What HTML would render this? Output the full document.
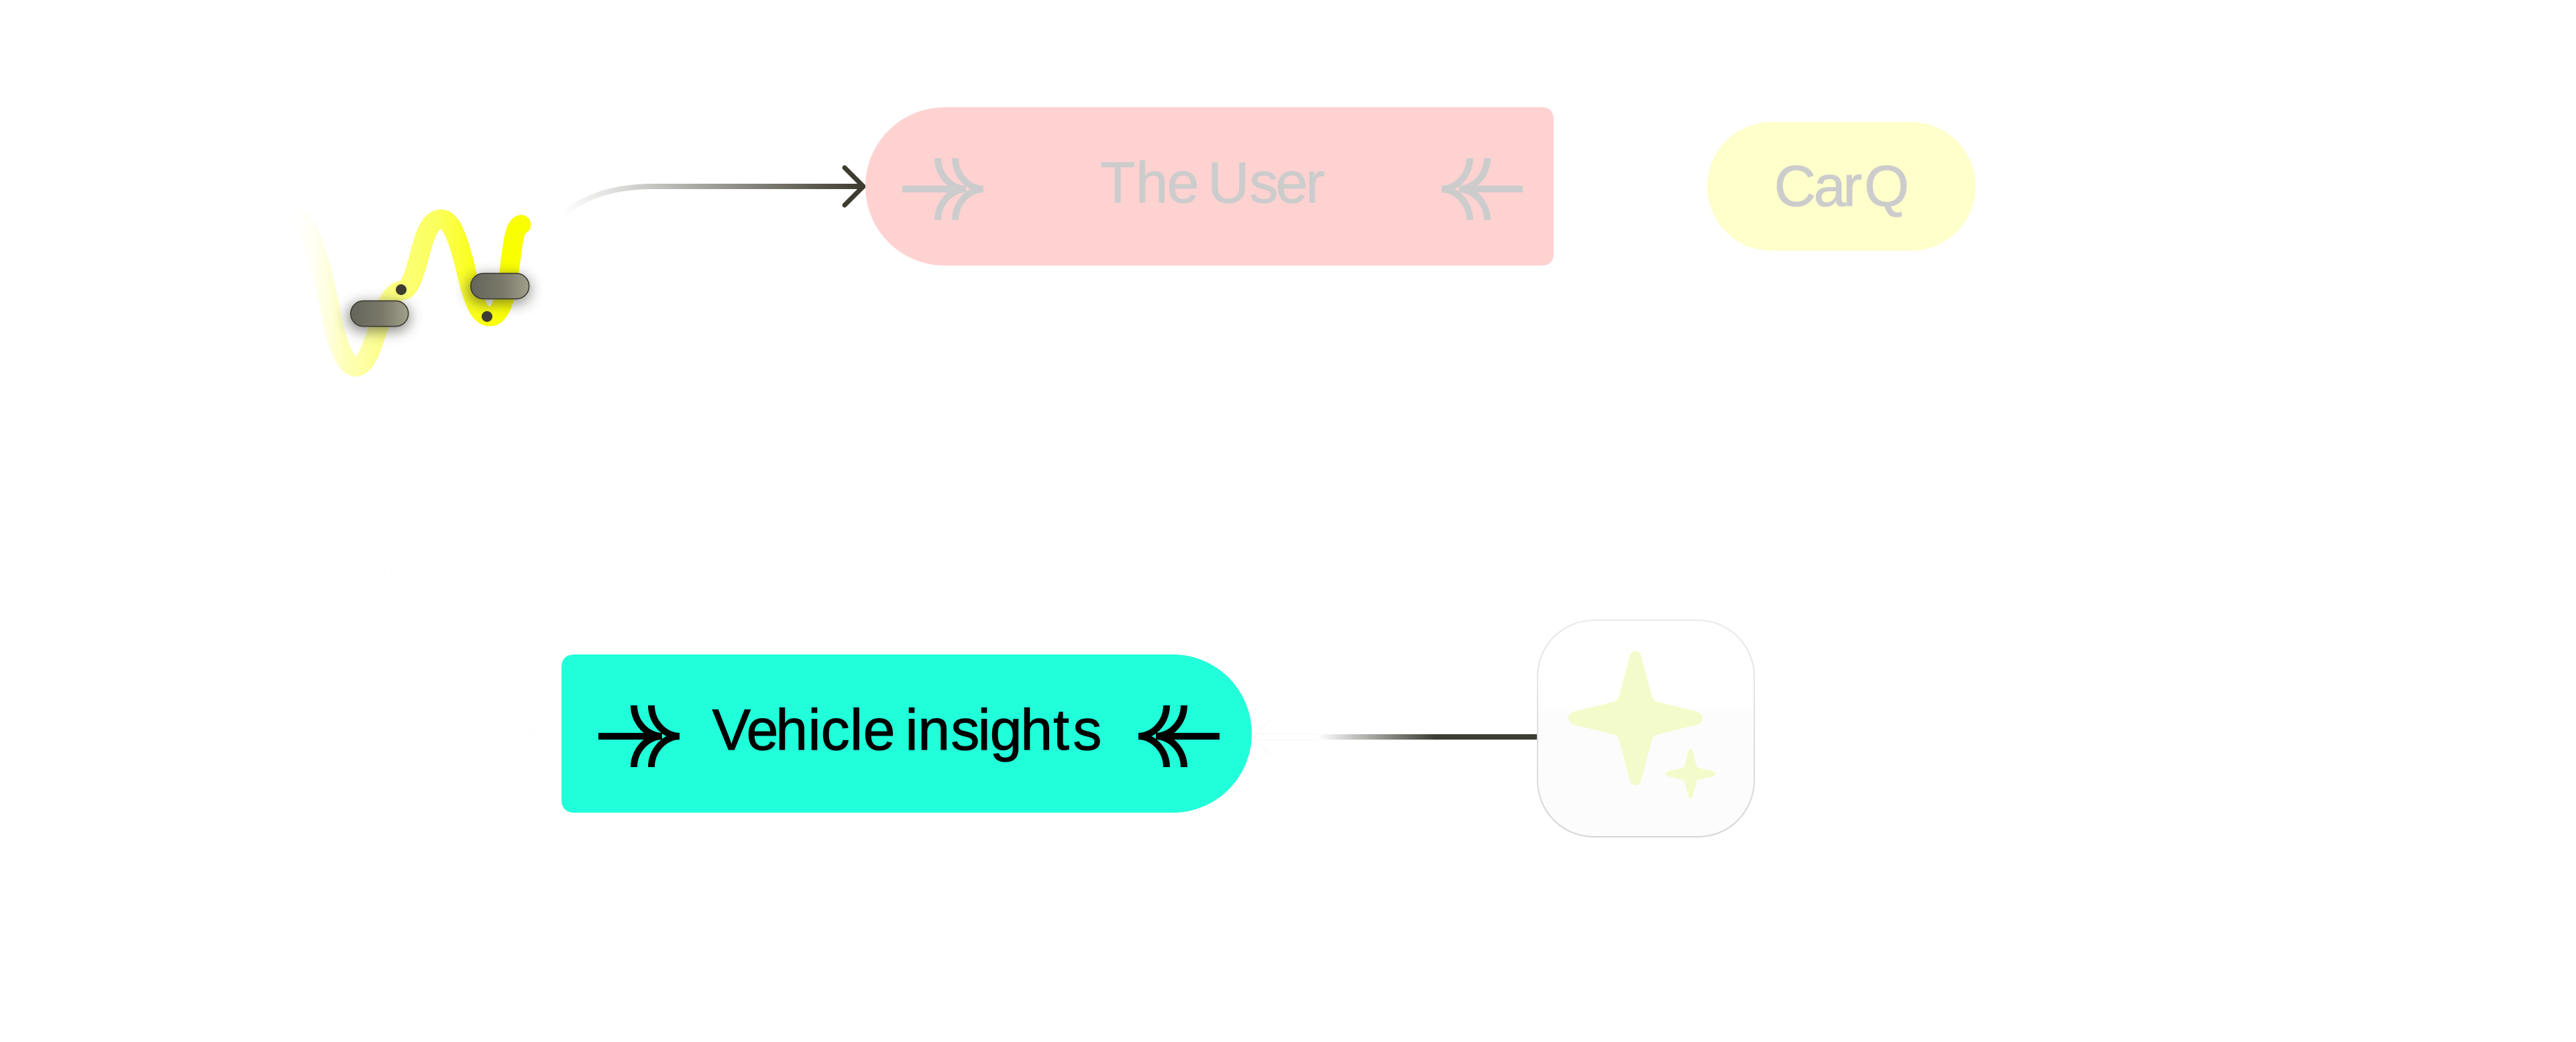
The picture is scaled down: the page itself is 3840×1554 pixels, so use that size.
<!DOCTYPE html>
<html>
<head>
<meta charset="utf-8">
<style>
html,body{margin:0;padding:0;background:#fff;}
svg{display:block;}
text{font-family:"Liberation Sans",sans-serif;font-size:86px;}
</style>
</head>
<body>
<svg xmlns="http://www.w3.org/2000/svg" width="3840" height="1554" viewBox="0 0 3840 1554">
<defs>
<linearGradient id="wave" gradientUnits="userSpaceOnUse" x1="445" y1="0" x2="790" y2="0">
<stop offset="0" stop-color="#fffff4" stop-opacity="0.15"/>
<stop offset="0.2" stop-color="#fdffb8"/>
<stop offset="0.4" stop-color="#fcff80"/>
<stop offset="0.6" stop-color="#fbff5c"/>
<stop offset="0.75" stop-color="#faff1c"/>
<stop offset="0.9" stop-color="#f9ff00"/>
<stop offset="1" stop-color="#f9ff00"/>
</linearGradient>
<linearGradient id="pill" x1="0" y1="0" x2="1" y2="0">
<stop offset="0" stop-color="#64645b"/>
<stop offset="0.55" stop-color="#7a796a"/>
<stop offset="1" stop-color="#a1a08b"/>
</linearGradient>
<linearGradient id="c1" gradientUnits="userSpaceOnUse" x1="840" y1="0" x2="1285" y2="0">
<stop offset="0" stop-color="#3e3c30" stop-opacity="0"/>
<stop offset="0.25" stop-color="#3e3c30" stop-opacity="0.25"/>
<stop offset="1" stop-color="#3e3c30"/>
</linearGradient>
<linearGradient id="c2" gradientUnits="userSpaceOnUse" x1="2140" y1="0" x2="1965" y2="0">
<stop offset="0" stop-color="#3a3d33"/>
<stop offset="1" stop-color="#3a3d33" stop-opacity="0"/>
</linearGradient>
<linearGradient id="tile" x1="0" y1="0" x2="0" y2="1">
<stop offset="0" stop-color="#ffffff"/>
<stop offset="0.38" stop-color="#ffffff"/>
<stop offset="0.44" stop-color="#fcfcfc"/>
<stop offset="1" stop-color="#fcfcfc"/>
</linearGradient>
<linearGradient id="tileb" x1="0" y1="0" x2="0" y2="1">
<stop offset="0" stop-color="#ebe9e9"/>
<stop offset="1" stop-color="#d9d4d4"/>
</linearGradient>
<filter id="blur" x="-50%" y="-100%" width="200%" height="300%"><feGaussianBlur stdDeviation="10"/></filter>
</defs>

<rect width="3840" height="1554" fill="#ffffff"/>

<!-- wave -->
<path d="M445 327 C470 350 478 400 490 450 C500 505 512 547 531 547 C548 547 558 505 570 470 C578 445 590 434 600 433 C612 432 618 405 623 390 C633 350 640 327 658 327 C674 327 684 362 692 392 C703 440 712 472 730 472 C750 472 756 430 760 397 C764 365 767 337 777 335" fill="none" stroke="url(#wave)" stroke-width="29" stroke-linecap="round"/>

<!-- pills -->
<rect x="518" y="452" width="93" height="42" rx="21" fill="#3e3c30" opacity="0.62" filter="url(#blur)"/>
<rect x="522.7" y="448.7" width="86" height="38" rx="19" fill="url(#pill)" stroke="#3c3d33" stroke-width="1.6"/>
<rect x="697" y="411" width="94" height="42" rx="21" fill="#3e3c30" opacity="0.58" filter="url(#blur)"/>
<rect x="701.7" y="407.7" width="87" height="38" rx="19" fill="url(#pill)" stroke="#3c3d33" stroke-width="1.6"/>
<circle cx="598" cy="432" r="8" fill="#3e3c30"/>
<circle cx="726" cy="472" r="8" fill="#3e3c30"/>

<!-- connector 1 -->
<path d="M840 318 C875 292 915 278 975 278 L1286 278" fill="none" stroke="url(#c1)" stroke-width="8"/>
<path d="M1259 250 L1287 278 L1259 306" fill="none" stroke="#3e3c30" stroke-width="7" stroke-linecap="round" stroke-linejoin="miter"/>

<!-- The User -->
<path d="M1408 160 H2298 Q2316 160 2316 178 V378 Q2316 396 2298 396 H1408 A118 118 0 0 1 1408 160 Z" fill="#ffd2d2"/>
<text x="1640 1693.3 1739.6 1790 1800.3 1862.4 1901.6 1946.3" y="302" fill="#cccccc" stroke="#cccccc" stroke-width="1">The User</text>
<g fill="none" stroke="#cccccc" stroke-width="10" transform="translate(453,-816)">
<path d="M892 1098 H987"/>
<path d="M945 1052 C945 1077 965 1098 987 1098 C965 1098 945 1119 945 1144"/>
<path d="M971 1052 C971 1077 991 1098 1013 1098 C991 1098 971 1119 971 1144"/>
</g>
<g fill="none" stroke="#cccccc" stroke-width="10" transform="translate(3162,-816) scale(-1,1)">
<path d="M892 1098 H987"/>
<path d="M945 1052 C945 1077 965 1098 987 1098 C965 1098 945 1119 945 1144"/>
<path d="M971 1052 C971 1077 991 1098 1013 1098 C991 1098 971 1119 971 1144"/>
</g>

<!-- CarQ -->
<rect x="2545" y="182" width="400" height="192" rx="96" fill="#ffffcc"/>
<text x="2644.7 2703.6 2747.3 2779" y="307" fill="#cccccc" stroke="#cccccc" stroke-width="1">CarQ</text>

<!-- Vehicle insights -->
<path d="M857 976 H1748 A118 118 0 0 1 1748 1212 H857 Q837 1212 837 1192 V996 Q837 976 857 976 Z" fill="#20ffd9"/>
<text x="1061.6 1112.6 1156.3 1204.5 1223.6 1267 1286.6 1340 1349.5 1368.3 1417.4 1457.5 1475.6 1521.3 1570 1599.4" y="1118" fill="#000000" stroke="#000000" stroke-width="1">Vehicle insights</text>
<g fill="none" stroke="#000000" stroke-width="10">
<path d="M892 1098 H987"/>
<path d="M945 1052 C945 1077 965 1098 987 1098 C965 1098 945 1119 945 1144"/>
<path d="M971 1052 C971 1077 991 1098 1013 1098 C991 1098 971 1119 971 1144"/>
</g>
<g fill="none" stroke="#000000" stroke-width="10" transform="translate(2710,0) scale(-1,1)">
<path d="M892 1098 H987"/>
<path d="M945 1052 C945 1077 965 1098 987 1098 C965 1098 945 1119 945 1144"/>
<path d="M971 1052 C971 1077 991 1098 1013 1098 C991 1098 971 1119 971 1144"/>
</g>

<!-- connector 2 -->
<path d="M2291 1099 H1965" fill="none" stroke="url(#c2)" stroke-width="8"/>
<path d="M1895 1073 L1867 1099 L1895 1127 M1870 1095 H1965 M1870 1103 H1965" fill="none" stroke="#f7f7f7" stroke-width="1.2"/>

<!-- faint curves -->
<path d="M566 838 C566 960 670 1090 830 1099" fill="none" stroke="#eeeeee" stroke-width="1" stroke-dasharray="1 7"/>
<path d="M573 840 C573 960 680 1082 825 1091" fill="none" stroke="#eeeeee" stroke-width="1" stroke-dasharray="1 7"/>

<!-- tile -->
<rect x="2292" y="925" width="323" height="323" rx="84" fill="url(#tile)" stroke="url(#tileb)" stroke-width="2"/>
<path transform="translate(2438,1071)" fill="#f4fbcb" d="M-9,-91 Q-7,-100 0,-100 Q7,-100 9,-91 L23,-38 Q25,-27 32,-24.5 L91,-10 Q100,-7 100,0 Q100,7 91,10 L32,24.5 Q25,27 23,38 L9,91 Q7,100 0,100 Q-7,100 -9,91 L-23,38 Q-25,27 -32,24.5 L-91,10 Q-100,7 -100,0 Q-100,-7 -91,-10 L-32,-24.5 Q-25,-27 -23,-38 Z"/>
<path transform="translate(2520,1154) scale(0.37)" fill="#f4fbcb" d="M-9,-91 Q-7,-100 0,-100 Q7,-100 9,-91 L23,-38 Q25,-27 32,-24.5 L91,-10 Q100,-7 100,0 Q100,7 91,10 L32,24.5 Q25,27 23,38 L9,91 Q7,100 0,100 Q-7,100 -9,91 L-23,38 Q-25,27 -32,24.5 L-91,10 Q-100,7 -100,0 Q-100,-7 -91,-10 L-32,-24.5 Q-25,-27 -23,-38 Z"/>
</svg>
</body>
</html>
